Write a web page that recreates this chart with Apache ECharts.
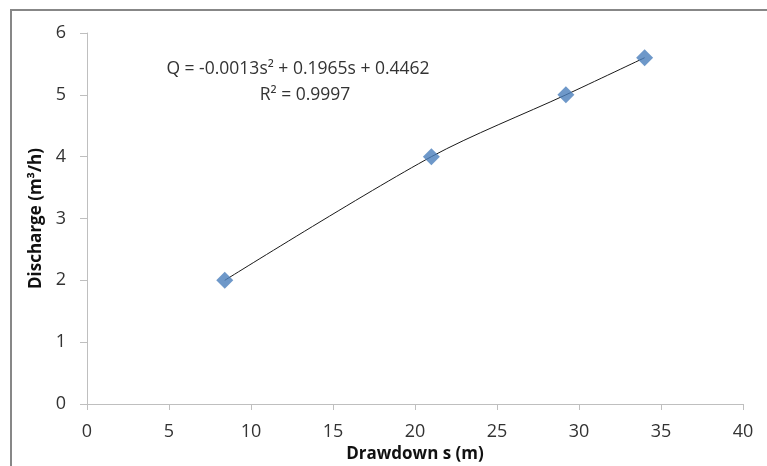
<!DOCTYPE html>
<html>
<head>
<meta charset="utf-8">
<script src="https://cdn.jsdelivr.net/npm/echarts@6/dist/echarts.min.js"></script>
<style>
  html, body { margin: 0; padding: 0; background: #fff; }
  #chart { width: 767px; height: 466px; }
</style>
</head>
<body>
<div id="chart"></div>
<script>
// Pumping test: drawdown vs discharge
const drawdown = [8.4, 21, 29.2, 34];
const discharge = [2, 4, 5, 5.6];
const xTicks = [0, 5, 10, 15, 20, 25, 30, 35, 40];
const yTicks = [0, 1, 2, 3, 4, 5, 6];
const equationText = 'Q = -0.0013s\u00B2 + 0.1965s + 0.4462';
const rSquaredText = 'R\u00B2 = 0.9997';

const points = drawdown.map((s, i) => [s, discharge[i]]);
const font = '"Open Sans", sans-serif';

const chart = echarts.init(document.getElementById('chart'), null, { renderer: 'canvas' });
chart.setOption({
  animation: false,
  backgroundColor: '#fff',
  grid: { left: 87, right: 24, top: 33, bottom: 62, outerBoundsMode: 'none', containLabel: false },
  xAxis: {
    type: 'value',
    min: xTicks[0], max: xTicks[xTicks.length - 1], interval: 5,
    name: 'Drawdown s (m)', nameLocation: 'middle', nameGap: 42,
    nameTextStyle: { fontFamily: font, fontWeight: 'bold', fontSize: 17, color: '#111' },
    axisLine: { lineStyle: { color: '#bfbfbf', width: 1 } },
    axisTick: { show: true, length: 6, lineStyle: { color: '#bfbfbf' } },
    axisLabel: { fontFamily: font, fontSize: 18, color: '#333', margin: 19 },
    splitLine: { show: false }
  },
  yAxis: {
    type: 'value',
    min: yTicks[0], max: yTicks[yTicks.length - 1], interval: 1,
    name: 'Discharge (m\u00B3/h)', nameLocation: 'middle', nameGap: 41,
    nameTextStyle: { fontFamily: font, fontWeight: 'bold', fontSize: 17, color: '#111' },
    axisLine: { show: true, lineStyle: { color: '#bfbfbf', width: 1 } },
    axisTick: { show: true, length: 7, lineStyle: { color: '#bfbfbf' } },
    axisLabel: { fontFamily: font, fontSize: 18, color: '#333', margin: 21 },
    splitLine: { show: false }
  },
  graphic: [
    {
      type: 'rect', silent: true, z: 100,
      shape: { x: 11, y: 10, width: 800, height: 500 },
      style: { fill: 'none', stroke: '#878787', lineWidth: 2 }
    },
    {
      type: 'text', z: 100,
      style: { text: equationText, x: 298, y: 69, align: 'center', verticalAlign: 'middle',
               font: '17.5px ' + font, fill: '#333' }
    },
    {
      type: 'text', z: 100,
      style: { text: rSquaredText, x: 305, y: 95, align: 'center', verticalAlign: 'middle',
               font: '17.5px ' + font, fill: '#333' }
    }
  ],
  series: [
    {
      name: 'Trend', type: 'line', data: points, smooth: 0.3,
      showSymbol: false, lineStyle: { color: '#1a1a1a', width: 1 }, z: 2
    },
    {
      name: 'Observed', type: 'scatter', data: points,
      symbol: 'diamond', symbolSize: 17,
      itemStyle: { color: '#4a7ebb' }, z: 3
    }
  ]
});
</script>
</body>
</html>
